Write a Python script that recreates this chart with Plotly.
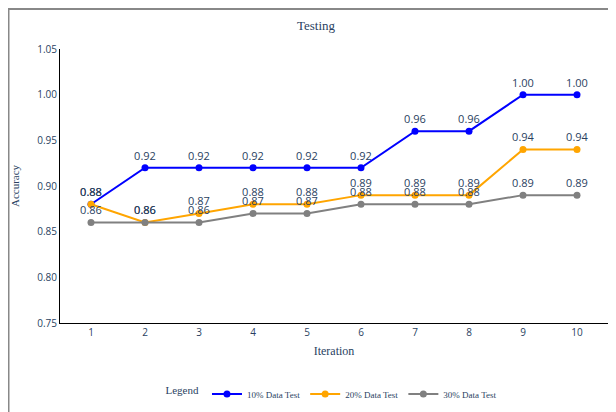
import plotly.graph_objects as go

iterations = [1, 2, 3, 4, 5, 6, 7, 8, 9, 10]
acc_10 = [0.88, 0.92, 0.92, 0.92, 0.92, 0.92, 0.96, 0.96, 1.00, 1.00]
acc_20 = [0.88, 0.86, 0.87, 0.88, 0.88, 0.89, 0.89, 0.89, 0.94, 0.94]
acc_30 = [0.86, 0.86, 0.86, 0.87, 0.87, 0.88, 0.88, 0.88, 0.89, 0.89]
names = ["10% Data Test", "20% Data Test", "30% Data Test"]
colors = ["blue", "orange", "gray"]

# page body has an 8px margin, so figure pixels = screen pixels - 8
W, H = 608, 404
L, R, T, B = 52, 8, 41, 89
pw, ph = W - L - R, H - T - B

fig = go.Figure()
for vals, name, c in zip([acc_10, acc_20, acc_30], names, colors):
    fig.add_trace(go.Scatter(
        x=iterations, y=vals, name=name, mode="lines+markers+text",
        line=dict(color=c, width=2), marker=dict(color=c, size=7),
        texttemplate="%{y:.2f}", textposition="top center",
        textfont=dict(family="Open Sans, sans-serif", size=11, color="#2a3f5f"),
    ))

def px_x(p):
    return (p - L) / pw

def px_y(p):
    return (H - B - p) / ph

fig.add_shape(type="line", xref="paper", yref="paper",
              x0=px_x(0), x1=px_x(W + 10), y0=px_y(1), y1=px_y(1),
              line=dict(color="#888888", width=2))
fig.add_shape(type="line", xref="paper", yref="paper",
              x0=px_x(0.5), x1=px_x(0.5), y0=px_y(0), y1=px_y(H + 10),
              line=dict(color="#888888", width=2))

fig.update_layout(
    width=W, height=H,
    margin=dict(l=L, r=R, t=T, b=B, autoexpand=False),
    paper_bgcolor="white", plot_bgcolor="white",
    title=dict(text="Testing", x=px_x(308), xref="paper", xanchor="center",
               y=1 - 17 / H, yanchor="middle",
               font=dict(family="Liberation Serif, serif", size=13, color="#2a3f5f")),
    xaxis=dict(range=[0.426, 10.574], tickvals=iterations, showgrid=False, automargin=False,
               zeroline=False, showline=True, linecolor="black", linewidth=1,
               ticks="", tickfont=dict(family="Open Sans, sans-serif", size=10, color="#2a3f5f"),
               title=dict(text="Iteration", standoff=8,
                          font=dict(family="Liberation Serif, serif", size=12, color="#2a3f5f"))),
    yaxis=dict(range=[0.75, 1.05], dtick=0.05, tickformat=".2f", showgrid=False, automargin=False,
               zeroline=False, showline=True, linecolor="black", linewidth=1,
               ticks="", tickfont=dict(family="Open Sans, sans-serif", size=10, color="#2a3f5f"),
               title=dict(text="Accuracy",
                          font=dict(family="Liberation Serif, serif", size=11, color="#2a3f5f"))),
    legend=dict(orientation="h", x=px_x(325), xanchor="center", y=px_y(386), yanchor="middle",
                itemwidth=30,
                title=dict(text="Legend", font=dict(family="Liberation Serif, serif", size=11, color="#2a3f5f")),
                font=dict(family="Liberation Serif, serif", size=9, color="#2a3f5f")),
)

fig.write_html("out.html")
